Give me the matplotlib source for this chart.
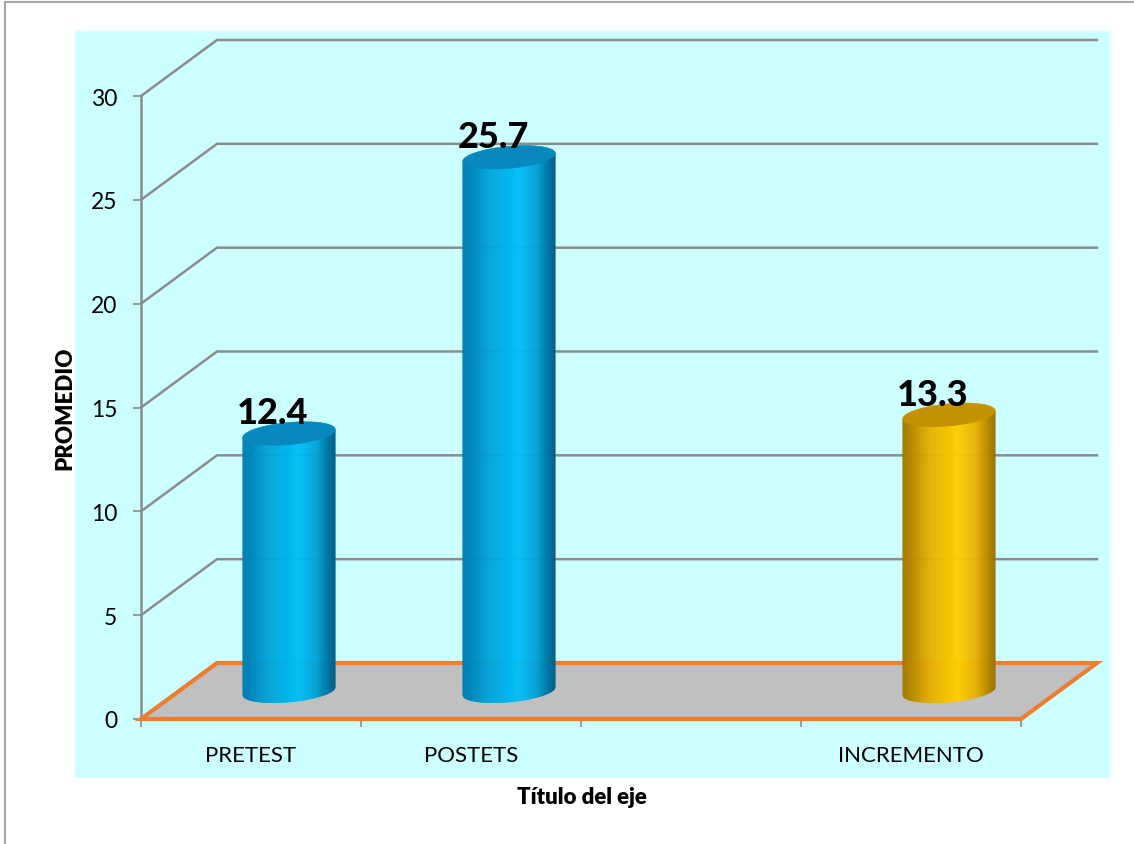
import numpy as np
import matplotlib
matplotlib.use("Agg")
import matplotlib.pyplot as plt
from matplotlib.patches import Rectangle, Polygon
from matplotlib.collections import PolyCollection
from matplotlib.colors import LinearSegmentedColormap

plt.rcParams['font.family'] = ['Lato', 'DejaVu Sans']

# ---------------- data ----------------
categories = ["PRETEST", "POSTETS", "", "INCREMENTO"]
values = [12.4, 25.7, None, 13.3]
bar_kind = ["blue", "blue", None, "gold"]
value_labels = ["12.4", "25.7", None, "13.3"]
y_ticks = [0, 5, 10, 15, 20, 25, 30]
y_label = "PROMEDIO"
x_label = "Título del eje"

# ---------------- style ----------------
W, H, DPI = 1134, 845, 100
DEPTH_DX_PX, DEPTH_DY_PX = 76, 56
BAR_WIDTH = 0.42
ELL_HALF_PX = 11
TILT_PX = 4
GRID_C = "#8C8C8C"
ORANGE = "#ED7D31"

fig = plt.figure(figsize=(W / DPI, H / DPI), dpi=DPI)
fig.patch.set_facecolor("white")

# outer border & cyan plot area
fig.patches.append(Rectangle((5 / W, -0.1), 1.2, 1 - 3 / H + 0.1, fill=False,
                             edgecolor="#A6A6A6", lw=1.5, transform=fig.transFigure, zorder=-2))
fig.patches.append(Rectangle((75 / W, (H - 779) / H), (1110 - 75) / W, (779 - 32) / H,
                             facecolor="#CCFFFF", edgecolor="none", transform=fig.transFigure, zorder=-1))

ax_l, ax_b, ax_w, ax_h = 141, H - 720, 880, 623
ax = fig.add_axes([ax_l / W, ax_b / H, ax_w / W, ax_h / H])
ax.set_zorder(2)
ax.patch.set_alpha(0)
n = len(categories)
ax.set_xlim(0, n)
ax.set_ylim(0, 30)

# pixel -> data factors
kx = n / ax_w
ky = 30 / ax_h
ddx, ddy = DEPTH_DX_PX * kx, DEPTH_DY_PX * ky

# walls: gridlines
for v in y_ticks[1:]:
    ax.plot([0, ddx, n + ddx], [v, v + ddy, v + ddy], color=GRID_C, lw=1.8,
            solid_joinstyle="miter", clip_on=False, zorder=1)

# floor
floor = Polygon([[0, 0], [n, 0], [n + ddx, ddy], [ddx, ddy]], closed=True,
                facecolor="#C0C0C0", edgecolor=ORANGE, lw=3, clip_on=False, zorder=2,
                joinstyle="miter")
ax.add_patch(floor)

# cylinders
cmaps = {
    "blue": LinearSegmentedColormap.from_list("b", [
        (0.0, "#007CB2"), (0.3, "#00A4DC"), (0.6, "#00C0F8"), (0.8, "#00A2DA"), (1.0, "#005C84")]),
    "gold": LinearSegmentedColormap.from_list("g", [
        (0.0, "#A47800"), (0.3, "#E8B000"), (0.6, "#FFCE00"), (0.8, "#E8B000"), (1.0, "#9C7200")]),
}
top_cols = {"blue": "#0988BE", "gold": "#C49200"}

half_w = BAR_WIDTH / 2
b = ELL_HALF_PX * ky
tilt = TILT_PX * ky
NS = 90
for i, (val, kind, lab) in enumerate(zip(values, bar_kind, value_labels)):
    if val is None:
        continue
    cx = i + 0.5 + ddx / 2
    base = ddy / 2
    top = val + ddy / 2
    edges = np.linspace(-1, 1, NS + 1)
    polys, cols = [], []
    cm = cmaps[kind]
    for u0, u1 in zip(edges[:-1], edges[1:]):
        uu = np.linspace(u0, u1, 4)
        xb = cx + uu * half_w
        yb = base + tilt * uu - b * np.sqrt(np.clip(1 - uu ** 2, 0, 1))
        yt = top + tilt * uu
        poly = np.column_stack([np.concatenate([xb, xb[::-1]]),
                                np.concatenate([yb, yt[::-1]])])
        polys.append(poly)
        cols.append(cm((u0 + u1 + 2) / 4))
    pc = PolyCollection(polys, facecolors=cols, edgecolors=cols, linewidths=0.4,
                        clip_on=False, zorder=3)
    ax.add_collection(pc)
    t = np.linspace(0, 2 * np.pi, 200)
    ex = cx + half_w * np.cos(t)
    ey = top + tilt * np.cos(t) + b * np.sin(t)
    ax.add_patch(Polygon(np.column_stack([ex, ey]), closed=True, facecolor=top_cols[kind],
                         edgecolor=top_cols[kind], lw=0.5, clip_on=False, zorder=4))
    ax.text(i + 0.5 + 22 * kx, val + ddy / 2 + 10 * ky, lab, ha="center", va="baseline",
            fontsize=26, fontweight="black", color="black", zorder=5)

# axes styling
for s in ["top", "right", "bottom"]:
    ax.spines[s].set_visible(False)
ax.spines["left"].set_color(GRID_C)
ax.spines["left"].set_linewidth(1.8)
ax.spines["left"].set_zorder(1)
ax.set_yticks(y_ticks)
ax.set_yticklabels([str(v) for v in y_ticks], fontsize=16.5)
ax.tick_params(axis="y", length=6, width=1.2, color=GRID_C, pad=11)
ax.set_xticks(range(n + 1))
ax.set_xticklabels([])
ax.tick_params(axis="x", which="major", length=6, width=1.2, color=GRID_C)
ax.set_xticks([i + 0.5 for i in range(n)], minor=True)
ax.set_xticklabels(categories, minor=True, fontsize=16)
ax.tick_params(axis="x", which="minor", length=0, pad=19)

fig.text(65 / W, 1 - 408 / H, y_label, rotation=90, ha="center", va="center",
         fontsize=16, fontweight="heavy")
fig.text(582 / W, 1 - 798 / H, x_label, ha="center", va="center",
         fontsize=16, fontweight="heavy")

fig.savefig("out.png", dpi=DPI)
